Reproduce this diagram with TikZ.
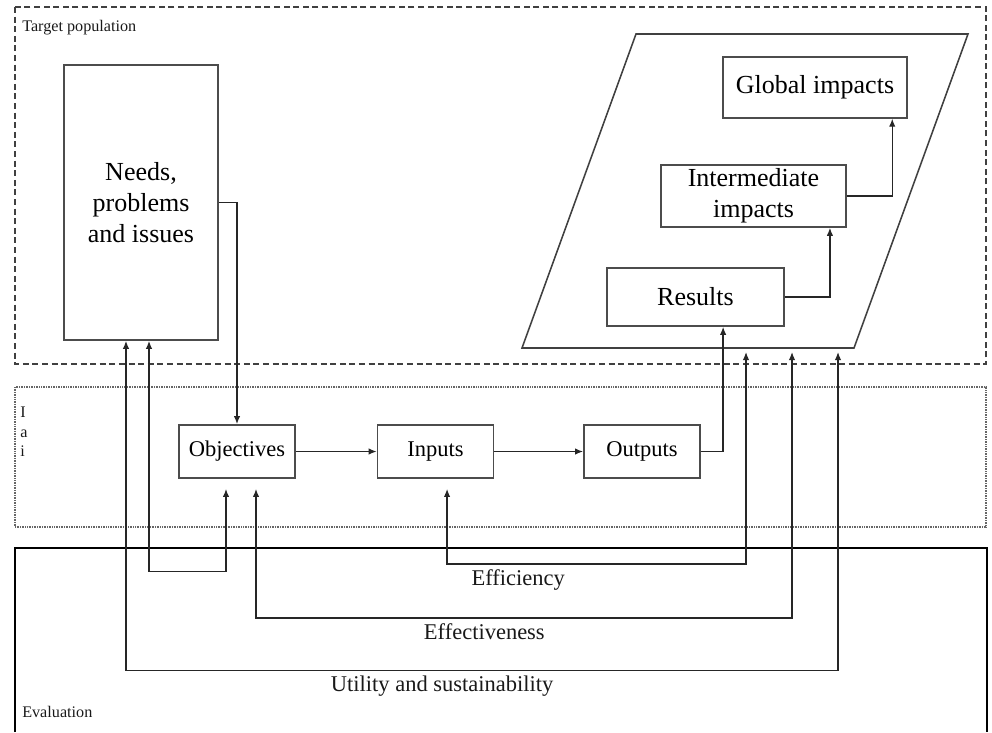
\documentclass[tikz,border=0pt]{standalone}
\usepackage{fontspec}
\setmainfont{Liberation Serif}
\usetikzlibrary{arrows.meta,positioning}
\begin{document}
\begin{tikzpicture}[x=0.025cm,y=-0.025cm]
    \tikzstyle{line} = [->,>={Latex[length=2mm,width=1.6mm]}, line width=0.9pt, draw=black!85]
    \tikzstyle{rec} = [rectangle, draw=black!70, line width=1.1pt, align=center, inner sep=2pt]
    \tikzstyle{small} = [rec, minimum width=2.9cm, minimum height=1.33cm, font=\fontsize{16}{19}\selectfont]
    \tikzstyle{big} = [rec, font=\fontsize{18.5}{22}\selectfont]
    \tikzstyle{lbl} = [font=\fontsize{16}{19}\selectfont, text=black!90]
    \tikzstyle{tag} = [font=\fontsize{11.5}{13.8}\selectfont, anchor=west, inner sep=0pt, text=black!90]

    \useasboundingbox (0,0) rectangle (992,732);

    \draw[black!75, line width=1.3pt, dash pattern=on 1.5mm off 0.9mm] (15,7) rectangle (986,364);
    \draw[black!60, line width=1pt, dash pattern=on 0.6pt off 0.6pt] (15,387) rectangle (986,527);
    \draw[black, line width=1.2pt] (15,732) -- (15,548) -- (987,548) -- (987,732);
    \draw[black!75, line width=1.1pt] (522,348) -- (636,34) -- (968,34) -- (854,348) -- cycle;

    \node(target) [tag] at (22,28) {Target population};
    \node(logic) [tag, align=left] at (20,432) {I\\a\\i};
    \node(evaluation) [tag] at (22,712) {Evaluation};

    \node(needs) [big, minimum width=3.85cm, minimum height=6.875cm] at (141,202.5) {Needs,\\problems\\and issues};
    \node(objectives) [small] at (237,451.5) {Objectives};
    \node(inputs) [small, right of=objectives, node distance=4.96cm] {Inputs};
    \node(outputs) [small, right of=inputs, node distance=5.16cm] {Outputs};
    \node(results) [big, minimum width=4.42cm, minimum height=1.45cm] at (695.5,297) {Results};
    \node(interm) [big, minimum width=4.62cm, minimum height=1.55cm] at (753.5,196) {Intermediate\\impacts};
    \node(global) [big, minimum width=4.6cm, minimum height=1.52cm] at (815,87.5) {Global impacts};

    \coordinate(efficend) at (746,348);
    \coordinate(effectend) at (792,348);
    \coordinate(utilend) at (838,348);

    \draw[line] (needs.east) -| (objectives.north);
    \draw[line] (objectives) -- (inputs);
    \draw[line] (inputs) -- (outputs);
    \draw[line] (outputs.east) -| ([xshift=0.69cm]results.south);
    \draw[line] (results.east) -| ([xshift=1.91cm]interm.south);
    \draw[line] (interm.east) -| ([xshift=1.93cm]global.south);
    \draw[line, <->, shorten >=0.25cm] ([xshift=0.2cm]needs.south) -- ++(0,231)
    -| ([xshift=-0.275cm]objectives.south);
    \draw[line, <->, shorten <=0.25cm, shorten >=0.1cm] ([xshift=0.29cm]inputs.south)
    -- ++(0,85) -| node[lbl, pos=0.119, below] {Efficiency} (efficend);
    \draw[line, <->, shorten <=0.25cm, shorten >=0.1cm] ([xshift=0.475cm]objectives.south)
    -- ++(0,139) -| node[lbl, pos=0.213, below] {Effectiveness} (effectend);
    \draw[line, <->, shorten >=0.1cm] ([xshift=-0.375cm]needs.south)
    -- ++(0,330) -| node[lbl, pos=0.222, below] {Utility and sustainability} (utilend);
\end{tikzpicture}
\end{document}
